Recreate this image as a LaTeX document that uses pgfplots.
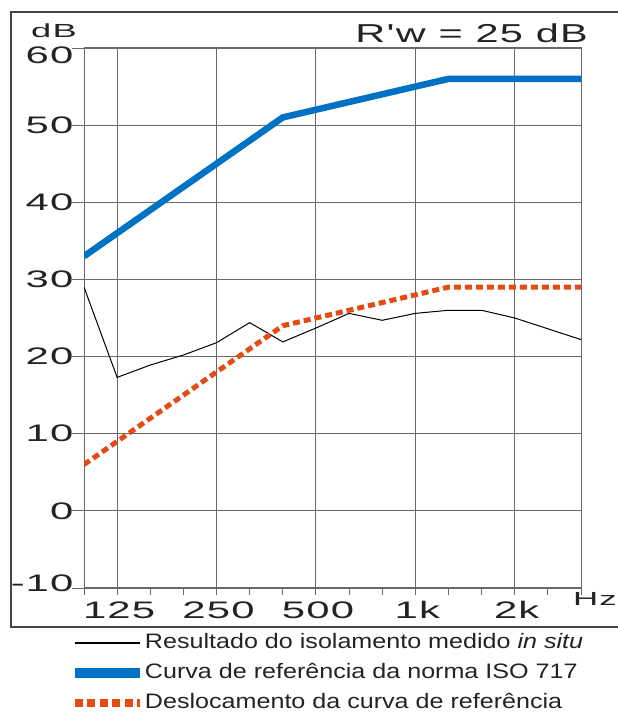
\documentclass[border=0pt]{standalone}
\usepackage{fontspec}
\setmainfont{Liberation Sans}
\newfontfamily\wide[FakeStretch=1.6, LetterSpace=5]{Liberation Sans}
\newfontfamily\tickfont[FakeStretch=1.75, LetterSpace=5]{Liberation Sans}
\newfontfamily\legfont[FakeStretch=1.2]{Liberation Sans}
\usepackage{pgfplots}
\pgfplotsset{compat=1.18}
\usepackage{pgfplotstable}

\definecolor{isoblue}{RGB}{0,114,198}
\definecolor{shiftred}{RGB}{228,76,20}
\definecolor{gridgray}{RGB}{105,105,105}
\definecolor{framegray}{RGB}{70,70,70}
\definecolor{textgray}{RGB}{35,35,35}

\newcommand{\tl}[1]{\mbox{\tickfont\fontsize{24}{24}\selectfont #1}}

% third-octave bands 100 Hz ... 3150 Hz as index 0..15
\pgfplotstableread{
band measured reference shifted
0  29.0 33 6
1  17.3 36 9
2  18.9 39 12
3  20.2 42 15
4  21.8 45 18
5  24.4 48 21
6  21.9 51 24
7  23.7 52 25
8  25.6 53 26
9  24.7 54 27
10 25.6 55 28
11 26.0 56 29
12 26.0 56 29
13 25.0 56 29
14 23.6 56 29
15 22.2 56 29
}\datatable

\begin{document}
\begin{tikzpicture}[x=1bp,y=1bp]
\useasboundingbox (0,0) rectangle (618,713);
\draw[framegray, line width=1.3bp] (630,701) -- (11,701) -- (11,86) -- (630,86);
\node[anchor=base, text=textgray, font=\wide\fontsize{19}{19}\selectfont, inner sep=0pt] at (54,675) {\scalebox{1.2}[1]{dB}};
\node[anchor=base east, text=textgray, font=\wide\fontsize{26}{26}\selectfont, inner sep=0pt] at (588,670) {R'w = 25 dB};
\node[anchor=base west, text=textgray, font=\wide\fontsize{19}{19}\selectfont, inner sep=0pt] at (573,107) {\scalebox{1.15}[1]{Hz}};
\begin{axis}[
    at={(84bp,125bp)}, anchor=south west,
    scale only axis, width=497bp, height=540bp,
    xmin=0, xmax=15, ymin=-10, ymax=60,
    xtick={1,4,7,10,13},
    xticklabels={\tl{125},\tl{250},\tl{500},\tl{1k},\tl{2k}},
    minor xtick={0,...,15},
    ytick={-10,0,...,60},
    yticklabels={\raisebox{5bp}{\tl{-\hspace{1bp}10}},\tl{0},\tl{10},\tl{20},\tl{30},\tl{40},\tl{50},\raisebox{-7bp}{\tl{60}}},
    xmajorgrids, ymajorgrids,
    grid style={gridgray, line width=0.9bp},
    axis line style={gridgray, line width=1bp},
    tick align=outside, xtick pos=bottom, ytick pos=left,
    major tick length=12bp, minor tick length=7bp,
    tick style={gridgray, line width=0.9bp},
    major x tick style={draw=none},
    ticklabel style={text=textgray},
    yticklabel style={text height=16.5bp, text depth=0pt, xshift=5bp},
    xticklabel style={yshift=2bp, xshift=2bp},
    legend style={at={(axis description cs:-0.0141,-0.08)}, anchor=north west,
        xshift=-7bp, yshift=-2bp,
        draw=none, fill=none, inner sep=0pt, outer sep=0pt, row sep=10.5bp,
        font=\legfont\fontsize{21}{21}\selectfont, text=textgray,
        nodes={inner sep=0pt, text height=15bp, text depth=4.5bp}},
    legend cell align=left,
    legend image code/.code={\draw[#1] (0bp,0bp) -- (50bp,0bp); \path (0bp,0bp) -- (65bp,0bp);},
]
\addlegendimage{black, line width=1.2bp}
\addlegendentry{Resultado do isolamento medido \textit{in situ}}
\addlegendimage{isoblue, line width=10bp}
\addlegendentry{Curva de referência da norma ISO 717}
\addlegendimage{shiftred, line width=8bp, dash pattern=on 8bp off 4.5bp}
\addlegendentry{Deslocamento da curva de referência}

\addplot[forget plot, black, line width=1bp] table[x=band, y=measured] {\datatable};
\addplot[forget plot, shiftred, line width=5bp, dash pattern=on 7bp off 4bp] table[x=band, y=shifted] {\datatable};
\addplot[forget plot, isoblue, line width=6.5bp] table[x=band, y=reference] {\datatable};
\end{axis}
\end{tikzpicture}
\end{document}
